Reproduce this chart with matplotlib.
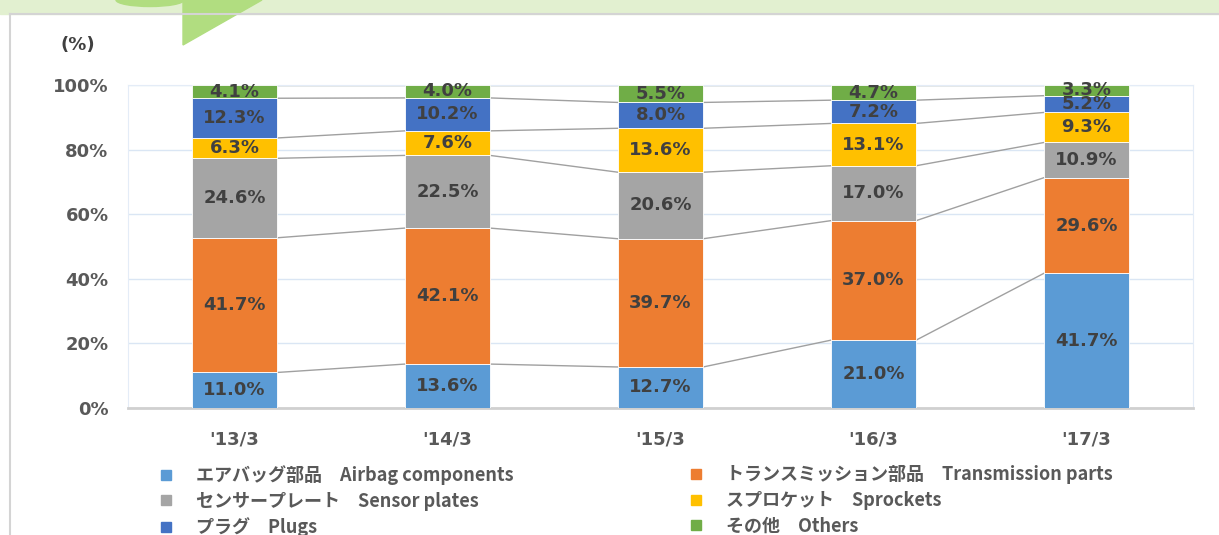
import matplotlib.pyplot as plt
import numpy as np
from matplotlib.lines import Line2D
from matplotlib.patches import Polygon, Rectangle, Ellipse

periods = ["'13/3", "'14/3", "'15/3", "'16/3", "'17/3"]
series_names = ["エアバッグ部品　Airbag components", "トランスミッション部品　Transmission parts",
                "センサープレート　Sensor plates", "スプロケット　Sprockets",
                "プラグ　Plugs", "その他　Others"]
airbag = [11.0, 13.6, 12.7, 21.0, 41.7]
transmission = [41.7, 42.1, 39.7, 37.0, 29.6]
sensor = [24.6, 22.5, 20.6, 17.0, 10.9]
sprockets = [6.3, 7.6, 13.6, 13.1, 9.3]
plugs = [12.3, 10.2, 8.0, 7.2, 5.2]
others = [4.1, 4.0, 5.5, 4.7, 3.3]
colors = ["#5b9bd5", "#ed7d31", "#a5a5a5", "#ffc000", "#4472c4", "#70ad47"]

data = [airbag, transmission, sensor, sprockets, plugs, others]

fig = plt.figure(figsize=(12.19, 5.35), dpi=100)

# header band + arrow (cropped at the top of the picture)
fig.patches.append(Rectangle((0, 1 - 14/535), 1, 14/535, transform=fig.transFigure,
                             color="#e2f0d0", zorder=0))
fig.lines.append(Line2D([10/1219, 1], [1 - 14/535] * 2, transform=fig.transFigure,
                        color="#d4d4d4", lw=1.5))
fig.lines.append(Line2D([10/1219, 10/1219], [0, 1 - 14/535], transform=fig.transFigure,
                        color="#d4d4d4", lw=1.5))
fig.patches.append(Ellipse((150/1219, 1), 68/1219, 13/535, transform=fig.transFigure,
                           color="#b1dd80", zorder=1))
fig.patches.append(Polygon([(183/1219, 1), (262/1219, 1), (183/1219, 1 - 45/535)],
                           transform=fig.transFigure, color="#b1dd80", zorder=1))

ax = fig.add_axes([128/1219, 127/535, 1065/1219, 323/535])
x = np.arange(len(periods))
w = 0.4
bottom = np.zeros(len(periods))
tops = []
for vals, c in zip(data, colors):
    vals = np.array(vals)
    ax.bar(x, vals, w, bottom=bottom, color=c, edgecolor="white", lw=0.6, zorder=3)
    for xi, b, v in zip(x, bottom, vals):
        ax.text(xi, b + v / 2, f"{v:.1f}%", ha="center", va="center", fontsize=13,
                fontweight="bold", color="#404040", zorder=5)
    bottom = bottom + vals
    tops.append(bottom.copy())

# series lines
for t in tops:
    t = np.minimum(t, 100)
    for i in range(len(periods) - 1):
        ax.plot([x[i] + w/2, x[i+1] - w/2], [t[i], t[i+1]], color="#a0a0a0", lw=1, zorder=2)

ax.set_xlim(-0.5, 4.5)
ax.set_ylim(0, 100)
ax.set_yticks(range(0, 101, 20))
ax.set_yticklabels([f"{v}%" for v in range(0, 101, 20)])
ax.set_xticks(x)
ax.set_xticklabels(periods)
ax.tick_params(length=0, labelsize=13, labelcolor="#595959")
ax.tick_params(axis="y", pad=14)
ax.tick_params(axis="x", pad=16)
for lab in ax.get_xticklabels() + ax.get_yticklabels():
    lab.set_fontweight("bold")
ax.grid(axis="y", color="#dae6f4", lw=1, zorder=0)
for s in ["left", "right", "top"]:
    ax.spines[s].set_color("#e4ecf7")
ax.spines["bottom"].set_color("#d0d0d0")
ax.spines["bottom"].set_linewidth(2)

fig.text(60/1219, 1 - 45/535, "(%)", fontsize=13, fontweight="bold", color="#404040",
         va="center", ha="left")

fam = ["Noto Sans CJK JP", "DejaVu Sans"]
for col, idx in enumerate([[0, 2, 4], [1, 3, 5]]):
    handles = [Line2D([], [], marker="s", ls="", color=colors[k], markersize=7) for k in idx]
    labels = [series_names[k] for k in idx]
    leg = fig.legend(handles, labels, loc="upper left",
                     bbox_to_anchor=([132, 662][col] / 1219, 1 - 449/535),
                     frameon=False, handletextpad=0.67, labelspacing=0.36,
                     prop={"family": fam, "weight": "bold", "size": 13})
    for t in leg.get_texts():
        t.set_color("#595959")

fig.savefig("out.png", dpi=100)
